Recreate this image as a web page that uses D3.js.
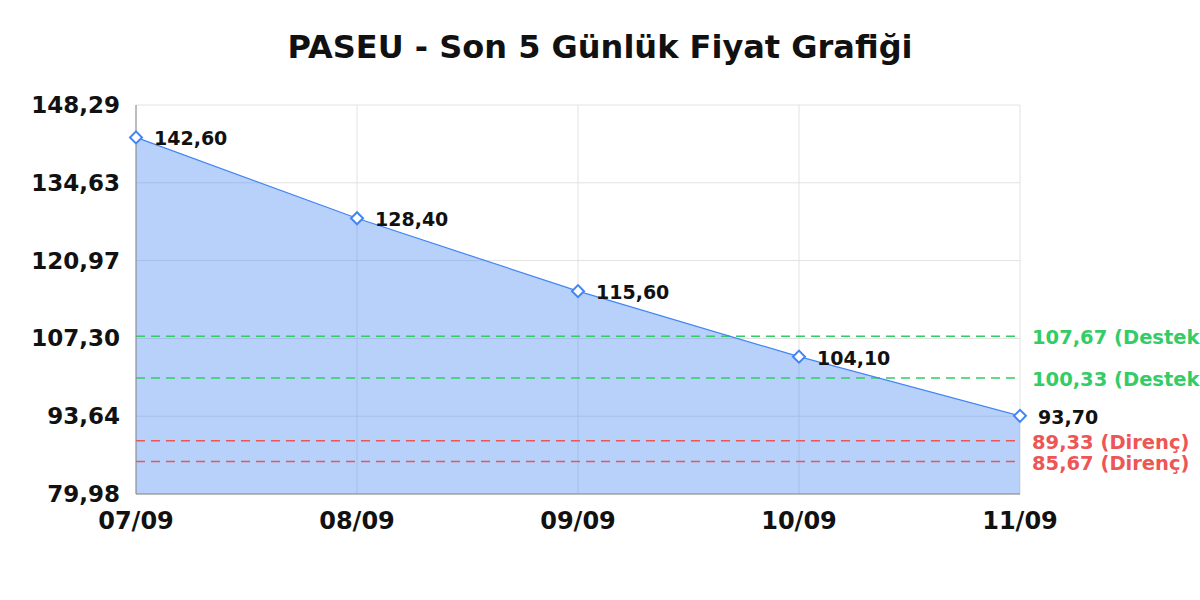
<!DOCTYPE html>
<html>
<head>
<meta charset="utf-8">
<script src="https://cdn.jsdelivr.net/npm/d3@7"></script>
<style>
  body { margin: 0; background: #fff; }
  text { font-family: "DejaVu Sans", sans-serif; }
</style>
</head>
<body>
<div id="chart-area"></div>
<script>
var dates = ['07/09', '08/09', '09/09', '10/09', '11/09'];
var prices = [142.60, 128.40, 115.60, 104.10, 93.70];
var yTicks = [79.98, 93.64, 107.30, 120.97, 134.63, 148.29];
var supportLevels = [107.67, 100.33];
var resistanceLevels = [89.33, 85.67];

var margin = { left: 136, right: 180, top: 105, bottom: 106 };
var width = 1200 - margin.left - margin.right;
var height = 600 - margin.top - margin.bottom;

var fmt = function(v) { return v.toFixed(2).replace('.', ','); };

var svg = d3.select('#chart-area')
  .append('svg')
  .attr('width', 1200)
  .attr('height', 600);

// Title
svg.append('text')
  .attr('x', 600)
  .attr('y', 58)
  .attr('text-anchor', 'middle')
  .attr('font-size', '32px')
  .attr('font-weight', 'bold')
  .attr('fill', '#111')
  .text('PASEU - Son 5 Günlük Fiyat Grafiği');

var g = svg.append('g')
  .attr('transform', 'translate(' + margin.left + ', ' + margin.top + ')');

var x = d3.scalePoint()
  .domain(dates)
  .range([0, width]);

var y = d3.scaleLinear()
  .domain([79.98, 148.29])
  .range([height, 0]);

// Grid
g.selectAll('.hgrid')
  .data(yTicks)
  .enter().append('line')
    .attr('x1', 0)
    .attr('x2', width)
    .attr('y1', function(d) { return y(d); })
    .attr('y2', function(d) { return y(d); })
    .attr('stroke', '#e2e2e2');

g.selectAll('.vgrid')
  .data(dates)
  .enter().append('line')
    .attr('x1', function(d) { return x(d); })
    .attr('x2', function(d) { return x(d); })
    .attr('y1', 0)
    .attr('y2', height)
    .attr('stroke', '#e2e2e2');

// Area
var area = d3.area()
  .x(function(d, i) { return x(dates[i]); })
  .y0(height)
  .y1(function(d) { return y(d); });

g.append('path')
  .datum(prices)
  .attr('d', area)
  .attr('fill', '#4285f4')
  .attr('fill-opacity', 0.38);

// Support / resistance lines
var levels = supportLevels.map(function(v) { return { v: v, kind: 'Destek', color: '#33cc66' }; })
  .concat(resistanceLevels.map(function(v) { return { v: v, kind: 'Direnç', color: '#ee5555' }; }));

g.selectAll('.level')
  .data(levels)
  .enter().append('line')
    .attr('x1', 0)
    .attr('x2', width)
    .attr('y1', function(d) { return y(d.v); })
    .attr('y2', function(d) { return y(d.v); })
    .attr('stroke', function(d) { return d.color; })
    .attr('stroke-width', 1.5)
    .attr('stroke-dasharray', '9,6');

g.selectAll('.level-label')
  .data(levels)
  .enter().append('text')
    .attr('x', width + 12)
    .attr('y', function(d) { return y(d.v) + 8; })
    .attr('font-size', '19.5px')
    .attr('font-weight', 'bold')
    .attr('fill', function(d) { return d.color; })
    .text(function(d) { return fmt(d.v) + ' (' + d.kind + ')'; });

// Axes lines
g.append('line')
  .attr('x1', 0).attr('x2', 0)
  .attr('y1', 0).attr('y2', height)
  .attr('stroke', '#888');
g.append('line')
  .attr('x1', 0).attr('x2', width)
  .attr('y1', height).attr('y2', height)
  .attr('stroke', '#888');

// Y labels
g.selectAll('.ylab')
  .data(yTicks)
  .enter().append('text')
    .attr('x', -16)
    .attr('y', function(d) { return y(d) + 8; })
    .attr('text-anchor', 'end')
    .attr('font-size', '23px')
    .attr('font-weight', 'bold')
    .attr('fill', '#111')
    .text(fmt);

// X labels
g.selectAll('.xlab')
  .data(dates)
  .enter().append('text')
    .attr('x', function(d) { return x(d); })
    .attr('y', height + 35)
    .attr('text-anchor', 'middle')
    .attr('font-size', '24px')
    .attr('font-weight', 'bold')
    .attr('fill', '#111')
    .text(function(d) { return d; });

// Line
var line = d3.line()
  .x(function(d, i) { return x(dates[i]); })
  .y(function(d) { return y(d); });

g.append('path')
  .datum(prices)
  .attr('d', line)
  .attr('fill', 'none')
  .attr('stroke', '#4285f4')
  .attr('stroke-width', 1.2);

// Markers
g.selectAll('.marker')
  .data(prices)
  .enter().append('path')
    .attr('d', d3.symbol().type(d3.symbolSquare).size(72))
    .attr('transform', function(d, i) {
      return 'translate(' + x(dates[i]) + ',' + y(d) + ') rotate(45)';
    })
    .attr('fill', '#fff')
    .attr('stroke', '#4285f4')
    .attr('stroke-width', 2);

// Point labels
g.selectAll('.plab')
  .data(prices)
  .enter().append('text')
    .attr('x', function(d, i) { return x(dates[i]) + 18; })
    .attr('y', function(d) { return y(d) + 8; })
    .attr('font-size', '19px')
    .attr('font-weight', 'bold')
    .attr('fill', '#111')
    .text(fmt);
</script>
</body>
</html>
